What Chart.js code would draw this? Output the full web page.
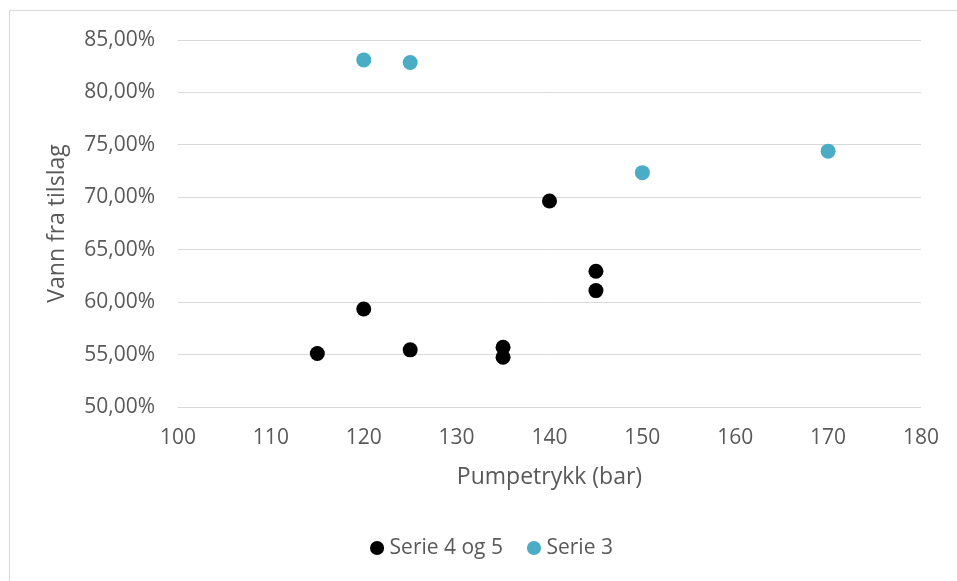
<!DOCTYPE html>
<html>
<head>
<meta charset="utf-8">
<script src="https://cdn.jsdelivr.net/npm/chart.js@4.4.0/dist/chart.umd.min.js"></script>
<style>
    html, body { margin: 0; padding: 0; background: #fff; overflow: hidden; }
    #wrap { position: relative; width: 957px; height: 581px; }
    #frame { position: absolute; left: 9px; top: 10px; width: 1200px; height: 800px; border: 1px solid #d9d9d9; }
    #chart { position: absolute; left: 0; top: 0; }
</style>
</head>
<body>
<div id="wrap">
    <div id="frame"></div>
    <canvas id="chart" width="957" height="581"></canvas>
</div>
<script>
// Serie 4 og 5 (black)
const serie45X = [115, 120, 125, 135, 135, 140, 145, 145];
const serie45Y = [55.1, 59.35, 55.45, 55.7, 54.75, 69.65, 62.95, 61.1];
// Serie 3 (teal)
const serie3X = [120, 125, 150, 170];
const serie3Y = [83.1, 82.85, 72.35, 74.4];

const xTicks = [100, 110, 120, 130, 140, 150, 160, 170, 180];
const yTicks = [50, 55, 60, 65, 70, 75, 80, 85];

const textColor = '#595959';
const gridColor = '#d9d9d9';
const fontFamily = '"Open Sans", "Liberation Sans", sans-serif';

const toPoints = (xs, ys) => xs.map((x, i) => ({ x: x, y: ys[i] }));

document.addEventListener('DOMContentLoaded', () => {
    const ctx = document.getElementById('chart').getContext('2d');
    const chart = new Chart(ctx, {
        type: 'scatter',
        data: {
            datasets: [{
                label: 'Serie 4 og 5',
                data: toPoints(serie45X, serie45Y),
                backgroundColor: '#000000',
                borderColor: '#000000',
                pointRadius: 7.5,
                pointBorderWidth: 0
            }, {
                label: 'Serie 3',
                data: toPoints(serie3X, serie3Y),
                backgroundColor: '#4bacc6',
                borderColor: '#4bacc6',
                pointRadius: 7.5,
                pointBorderWidth: 0
            }]
        },
        options: {
            responsive: false,
            animation: false,
            devicePixelRatio: 1,
            layout: {
                padding: { left: 10, top: 40, right: -21, bottom: 12.5 }
            },
            plugins: {
                tooltip: { enabled: false },
                legend: {
                    position: 'bottom',
                    labels: {
                        usePointStyle: true,
                        pointStyle: 'circle',
                        boxWidth: 4,
                        boxHeight: 10,
                        padding: 29,
                        color: textColor,
                        font: { family: fontFamily, size: 21, lineHeight: 1.2 }
                    }
                }
            },
            scales: {
                x: {
                    type: 'linear',
                    min: xTicks[0],
                    max: xTicks[xTicks.length - 1],
                    afterBuildTicks: scale => { scale.ticks = xTicks.map(v => ({ value: v })); },
                    afterFit: scale => { scale.height = 101.5; },
                    grid: { display: false, drawTicks: false },
                    border: { display: false },
                    ticks: {
                        padding: 18,
                        color: textColor,
                        maxRotation: 0,
                        font: { family: fontFamily, size: 21, lineHeight: 1.2 }
                    },
                    title: {
                        display: true,
                        text: 'Pumpetrykk (bar)',
                        color: textColor,
                        padding: { top: 0, bottom: 17.7 },
                        font: { family: fontFamily, size: 23, lineHeight: 1.2 }
                    }
                },
                y: {
                    min: yTicks[0],
                    max: yTicks[yTicks.length - 1],
                    afterBuildTicks: scale => { scale.ticks = yTicks.map(v => ({ value: v })); },
                    afterFit: scale => { scale.width = 168; },
                    grid: { color: gridColor, lineWidth: 1, drawTicks: false },
                    border: { display: false },
                    ticks: {
                        padding: 23,
                        color: textColor,
                        font: { family: fontFamily, size: 21, lineHeight: 1.2 },
                        callback: v => v.toFixed(2).replace('.', ',') + '%'
                    },
                    title: {
                        display: true,
                        text: 'Vann fra tilslag',
                        color: textColor,
                        padding: { top: 34, bottom: 0 },
                        font: { family: fontFamily, size: 23, lineHeight: 1.2 }
                    }
                },
                // empty right-hand axis, only reserves space so the legend centres like the original
                yRight: {
                    position: 'right',
                    display: true,
                    grid: { display: false, drawTicks: false },
                    border: { display: false },
                    ticks: { display: false },
                    afterFit: scale => { scale.width = 56; }
                }
            }
        }
    });
});
</script>
</body>
</html>
